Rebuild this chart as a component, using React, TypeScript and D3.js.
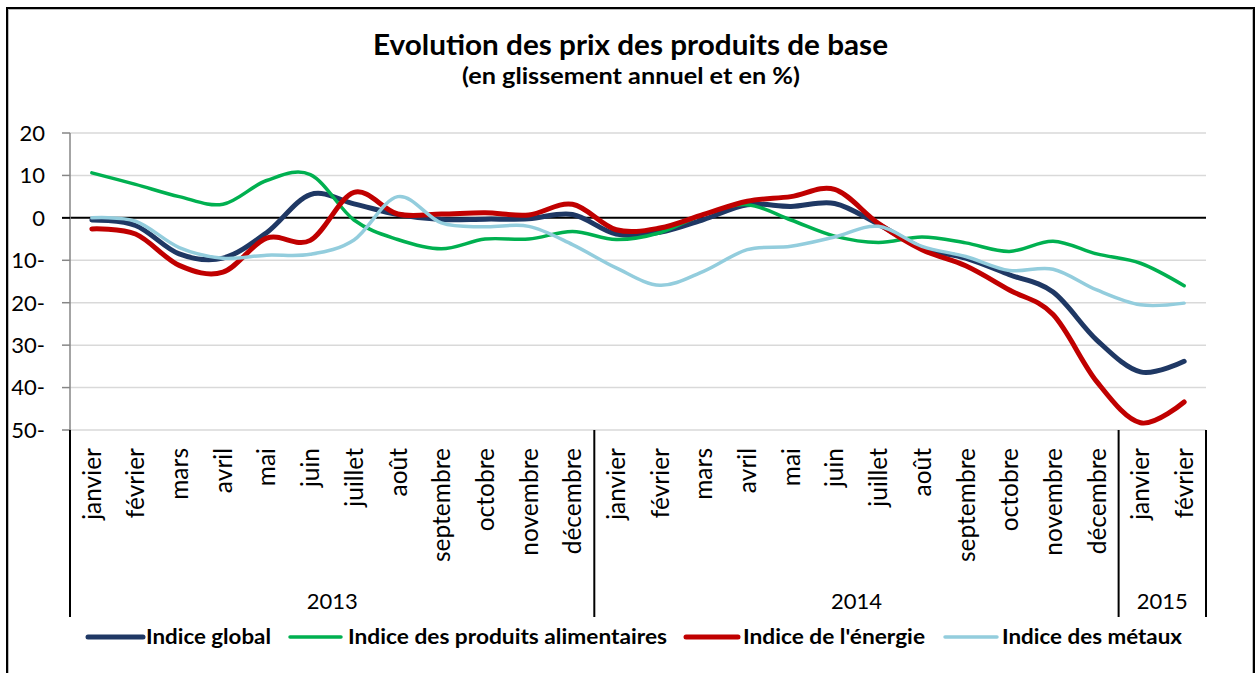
import React from "react";
import * as d3 from "d3";

const months = ["janvier","février","mars","avril","mai","juin","juillet","août","septembre","octobre","novembre","décembre","janvier","février","mars","avril","mai","juin","juillet","août","septembre","octobre","novembre","décembre","janvier","février"];
const years = [
  { label: "2013", start: 0, end: 12 },
  { label: "2014", start: 12, end: 24 },
  { label: "2015", start: 24, end: 26 },
];
const yTicks = [20, 10, 0, -10, -20, -30, -40, -50];

const indiceGlobal = [-0.5, -1.8, -8.5, -9.5, -3.5, 5.5, 3.3, 0.8, -0.4, -0.3, -0.2, 0.8, -3.8, -3.4, -0.4, 3.1, 2.7, 3.4, -1.5, -7.1, -9.5, -13.4, -17.5, -28.8, -36.3, -33.8];
const indiceAlimentaires = [10.6, 7.9, 5.0, 3.2, 8.8, 10.2, -0.5, -5.1, -7.3, -5.0, -5.0, -3.2, -5.1, -3.5, 0.8, 3.1, -0.5, -4.3, -5.8, -4.5, -5.9, -7.9, -5.5, -8.5, -10.7, -16.0];
const indiceEnergie = [-2.6, -3.8, -11.2, -12.8, -4.8, -5.3, 6.0, 0.9, 0.9, 1.2, 0.7, 3.2, -2.8, -2.4, 0.8, 3.9, 5.0, 6.7, -1.3, -7.5, -11.3, -17.0, -22.8, -38.6, -48.3, -43.4];
const indiceMetaux = [0.0, -0.8, -7.0, -9.5, -8.8, -8.6, -5.2, 5.0, -1.2, -2.1, -2.0, -6.3, -11.8, -15.9, -12.6, -7.5, -6.7, -4.5, -2.0, -6.7, -9.1, -12.4, -12.1, -17.0, -20.5, -20.1];

const series = [
  { name: "Indice global", values: indiceGlobal, color: "#1F3864", width: 5 },
  { name: "Indice des produits alimentaires", values: indiceAlimentaires, color: "#00B050", width: 3.5 },
  { name: "Indice de l'énergie", values: indiceEnergie, color: "#C00000", width: 5 },
  { name: "Indice des métaux", values: indiceMetaux, color: "#93CDDD", width: 3.5 },
];

const legendPos = [
  { x0: 88, x1: 143, tx: 146, tw: 125 },
  { x0: 290, x1: 341, tx: 348, tw: 319 },
  { x0: 686, x1: 738, tx: 743, tw: 182 },
  { x0: 945, x1: 997, tx: 1002, tw: 180 },
];

const FONT = "Lato, 'Open Sans', sans-serif";

export default function App() {
  const W = 1256, H = 673;
  const left = 70, right = 1206, top = 133, bottom = 430;
  const x = d3.scaleBand<number>().domain(d3.range(months.length)).range([left, right]).padding(0);
  const bw = x.bandwidth();
  const cx = (i: number) => (x(i) as number) + bw / 2;
  const y = d3.scaleLinear().domain([-50, 20]).range([bottom, top]);
  const line = d3.line<number>().x((_, i) => cx(i)).y((d) => y(d)).curve(d3.curveCatmullRom.alpha(0));

  const sepX = [left, ...years.map((yr) => (x(yr.end - 1) as number) + bw)];

  return (
    <svg width={W} height={H} style={{ position: "absolute", left: 0, top: 0, background: "#fff" }} fontFamily={FONT}>
      <rect x={0} y={0} width={W} height={H} fill="#fff" />
      <rect x={7} y={8} width={1247} height={720} fill="none" stroke="#000" strokeWidth={2} />
      <rect x={8.5} y={9.5} width={1244} height={720} fill="none" stroke="#bbb" strokeWidth={1} />

      <text x={630.5} y={55} textAnchor="middle" fontSize={29} fontWeight="bold" fill="#000" textLength={515} lengthAdjust="spacingAndGlyphs">Evolution des prix des produits de base</text>
      <text x={631} y={84} textAnchor="middle" fontSize={22} fontWeight="bold" fill="#000" textLength={338} lengthAdjust="spacingAndGlyphs">(en glissement annuel et en %)</text>

      {yTicks.map((t) => (
        <line key={"g" + t} x1={left} x2={right} y1={y(t)} y2={y(t)} stroke={t === 0 ? "#000" : "#D9D9D9"} strokeWidth={t === 0 ? 2 : 1.5} />
      ))}
      <line x1={left} x2={left} y1={top} y2={bottom} stroke="#868686" strokeWidth={1.5} />
      {yTicks.map((t) => (
        <line key={"t" + t} x1={62} x2={left} y1={y(t)} y2={y(t)} stroke={t === 0 ? "#000" : "#868686"} strokeWidth={t === 0 ? 2 : 1.5} />
      ))}
      {yTicks.map((t) => (
        <text key={"l" + t} x={45} y={y(t)} dy="0.36em" textAnchor="end" fontSize={22} fill="#000">
          {t < 0 ? `${-t}-` : `${t}`}
        </text>
      ))}

      {sepX.map((sx, i) => (
        <line key={"s" + i} x1={sx} x2={sx} y1={bottom} y2={617} stroke="#000" strokeWidth={2} />
      ))}

      {months.map((m, i) => (
        <text key={"m" + i} transform={`translate(${cx(i)},448) rotate(-90)`} dy="0.36em" textAnchor="end" fontSize={24.5} fill="#000">{m}</text>
      ))}
      {years.map((yr) => {
        const a = x(yr.start) as number;
        const b = (x(yr.end - 1) as number) + bw;
        return (
          <text key={yr.label} x={(a + b) / 2} y={609} textAnchor="middle" fontSize={22} fill="#000">{yr.label}</text>
        );
      })}

      {series.map((s) => (
        <path key={s.name} d={line(s.values) as string} fill="none" stroke={s.color} strokeWidth={s.width} strokeLinecap="round" strokeLinejoin="round" />
      ))}

      {series.map((s, i) => {
        const p = legendPos[i];
        return (
          <g key={"lg" + i}>
            <line x1={p.x0} x2={p.x1} y1={637} y2={637} stroke={s.color} strokeWidth={s.width} strokeLinecap="round" />
            <text x={p.tx} y={637} dy="0.35em" fontSize={20} fontWeight="bold" fill="#000" textLength={p.tw} lengthAdjust="spacingAndGlyphs">{s.name}</text>
          </g>
        );
      })}
    </svg>
  );
}
